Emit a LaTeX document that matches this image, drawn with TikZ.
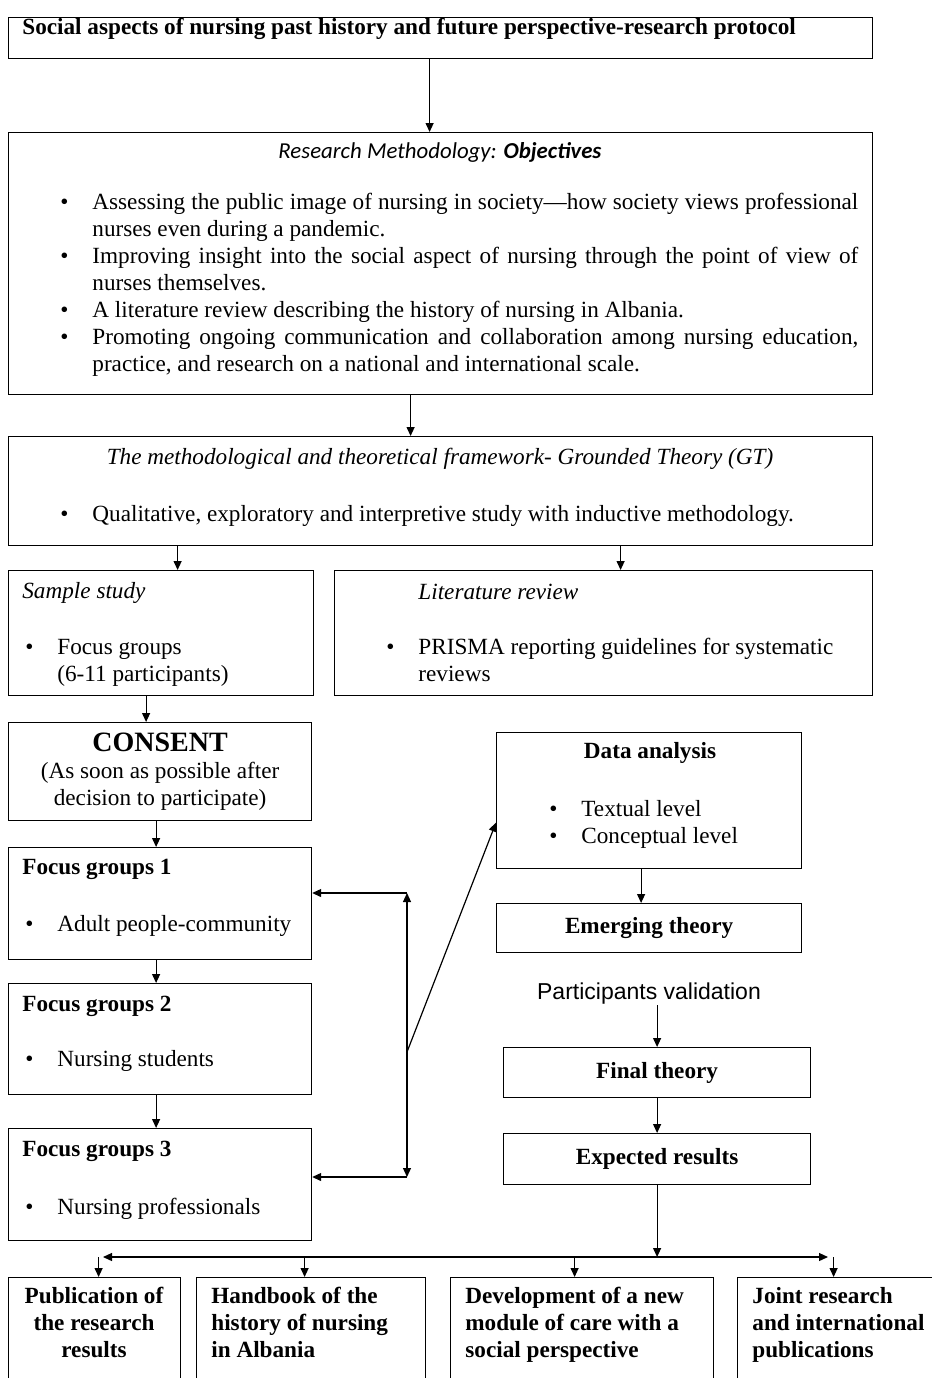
\documentclass[tikz,border=0pt]{standalone}
\usepackage{fontspec}
\setmainfont{Liberation Serif}
\newfontfamily\calibri{Carlito}
\newfontfamily\arial{Liberation Sans}
\usetikzlibrary{arrows.meta, positioning, calc}

\newcommand{\fsz}{\fontsize{11.6}{13.5}\selectfont}
\newenvironment{blist}{\begin{list}{\textbullet}{%
    \setlength{\leftmargin}{17.5pt}\setlength{\labelsep}{12pt}%
    \setlength{\labelwidth}{5.5pt}\setlength{\itemindent}{0pt}%
    \setlength{\itemsep}{0pt}\setlength{\parsep}{0pt}%
    \setlength{\topsep}{0pt}\setlength{\partopsep}{0pt}}}{\end{list}}

\begin{document}
\begin{tikzpicture}[
    x=0.5pt, y=-0.5pt,
    every node/.style={font=\fsz},
    pbox/.style 2 args={draw, line width=0.6pt, minimum width=#1*0.5pt, minimum height=#2*0.5pt, anchor=north west, inner sep=0pt, align=center},
    lbl/.style={anchor=west, inner sep=0pt},
    bftxt/.style={font=\fsz\bfseries},
    ittxt/.style={font=\fsz\itshape},
    items/.style={anchor=north west, inner sep=0pt, text width=#1*0.5pt, align=justify},
    arr/.style={-{Triangle[length=4.5pt, width=4pt]}, line width=0.6pt},
    arrboth/.style={{Triangle[length=4.5pt, width=4pt]}-{Triangle[length=4.5pt, width=4pt]}, line width=0.6pt}
]
    \useasboundingbox (0,0) rectangle (932,1378);
    \clip (0,0) rectangle (932,1378);

    % Title
    \node[pbox={864}{41}] (title) at (8,17) {};
    \node[lbl, bftxt] (titletxt) at (22,29) {Social aspects of nursing past history and future perspective-research protocol};

    % Objectives
    \node[pbox={864}{262}] (obj) at (8,132) {};
    \node[inner sep=0pt, font=\fontsize{11.4}{13.5}\calibri\itshape] (objhead) at (440,152) {Research Methodology: \textbf{Objectives}};
    \node[items=801] (objlist) at (57,182) {\begin{blist}
        \item Assessing the public image of nursing in society—how society views professional\linebreak nurses even during a pandemic.
        \item Improving insight into the social aspect of nursing through the point of view of\linebreak nurses themselves.
        \item A literature review describing the history of nursing in Albania.
        \item Promoting ongoing communication and collaboration among nursing education,\linebreak practice, and research on a national and international scale.
    \end{blist}};

    % Grounded theory
    \node[pbox={864}{109}] (gt) at (8,436) {};
    \node[inner sep=0pt, ittxt] (gthead) at (440,459) {The methodological and theoretical framework- Grounded Theory (GT)};
    \node[items=801] (gtlist) at (57,494) {\begin{blist}
        \item Qualitative, exploratory and interpretive study with inductive methodology.
    \end{blist}};

    % Sample study / literature review
    \node[pbox={305}{125}] (sample) at (8,570) {};
    \node[lbl, ittxt] (samplehead) at (22,593) {Sample study};
    \node[items=280] (samplelist) at (22,627) {\begin{blist}
        \item Focus groups\\(6-11 participants)
    \end{blist}};

    \node[pbox={538}{125}] (lit) at (334,570) {};
    \node[lbl, ittxt] (lithead) at (418,592) {Literature review};
    \node[items=480] (litlist) at (383,627) {\begin{blist}
        \item PRISMA reporting guidelines for systematic\\reviews
    \end{blist}};

    % Consent and focus groups
    \node[pbox={303}{98}] (consent) at (8,722) {{\fontsize{14}{13.5}\selectfont\bfseries CONSENT}\\(As soon as possible after\\decision to participate)};

    \node[pbox={303}{112}] (fg1) at (8,847) {};
    \node[lbl, bftxt] (fg1head) at (22,869) {Focus groups 1};
    \node[items=280] (fg1list) at (22,904) {\begin{blist}\item Adult people-community\end{blist}};

    \node[pbox={303}{111}] (fg2) at (8,983) {};
    \node[lbl, bftxt] (fg2head) at (22,1006) {Focus groups 2};
    \node[items=280] (fg2list) at (22,1039) {\begin{blist}\item Nursing students\end{blist}};

    \node[pbox={303}{112}] (fg3) at (8,1128) {};
    \node[lbl, bftxt] (fg3head) at (22,1151) {Focus groups 3};
    \node[items=280] (fg3list) at (22,1187) {\begin{blist}\item Nursing professionals\end{blist}};

    % Analysis column
    \node[pbox={305}{136}] (data) at (496,732) {};
    \node[inner sep=0pt, bftxt] (datahead) at (650,753) {Data analysis};
    \node[items=250] (datalist) at (546,789) {\begin{blist}
        \item Textual level
        \item Conceptual level
    \end{blist}};

    \node[pbox={305}{49}, bftxt] (emerg) at (496,903) {Emerging theory};
    \node[inner sep=0pt, font=\fontsize{11.5}{13.5}\arial] (valid) at (649,994) {Participants validation};
    \node[pbox={307}{50}, bftxt] (final) at (503,1047) {Final theory};
    \node[pbox={307}{51}, bftxt] (expect) at (503,1133) {Expected results};

    % Outcomes
    \node[pbox={172}{115}] (pub) at (8,1277) {};
    \node[anchor=north, inner sep=0pt, align=center, bftxt] (pubtxt) at (94,1287) {Publication of\\the research\\results};
    \node[pbox={229}{115}] (hand) at (196,1277) {};
    \node[anchor=north west, inner sep=0pt, align=left, bftxt] (handtxt) at (211,1287) {Handbook of the\\history of nursing\\in Albania};
    \node[pbox={263}{115}] (dev) at (450,1277) {};
    \node[anchor=north west, inner sep=0pt, align=left, bftxt] (devtxt) at (465,1287) {Development of a new\\module of care with a\\social perspective};
    \node[pbox={200}{115}] (joint) at (737,1277) {};
    \node[anchor=north west, inner sep=0pt, align=left, bftxt] (jointtxt) at (752,1287) {Joint research\\and international\\publications};

    % Connectors
    \draw[arr] ([xshift=-5.5pt]title.south) -- ([xshift=-5.5pt]obj.north);
    \draw[arr] ([xshift=-15pt]obj.south) -- ([xshift=-15pt]gt.north);
    \draw[arr] ([xshift=8.25pt]sample.north |- gt.south) -- ([xshift=8.25pt]sample.north);
    \draw[arr] ([xshift=8.5pt]lit.north |- gt.south) -- ([xshift=8.5pt]lit.north);
    \draw[arr] ([xshift=-7pt]consent.north |- sample.south) -- ([xshift=-7pt]consent.north);
    \draw[arr] ([xshift=-2pt]consent.south) -- ([xshift=-2pt]fg1.north);
    \draw[arr] ([xshift=-2pt]fg1.south) -- ([xshift=-2pt]fg2.north);
    \draw[arr] ([xshift=-2pt]fg2.south) -- ([xshift=-2pt]fg3.north);

    \coordinate (loopup) at (407,893);
    \coordinate (loopdn) at (407,1177);
    \coordinate (loopmid) at (407,1052);
    \draw[arrboth] (loopup) -- (loopdn);
    \draw[arr] (loopup) -- (fg1.east |- loopup);
    \draw[arr] (loopdn) -- (fg3.east |- loopdn);
    \draw[arr] (loopmid) -- ([yshift=-11pt]data.west);

    \draw[arr] ([xshift=-4pt]data.south) -- ([xshift=-4pt]emerg.north);
    \draw[arr] (final.north |- valid.south) -- (final.north);
    \draw[arr] (final.south) -- (expect.north);

    \coordinate (spine) at (656,1257);
    \coordinate (spinel) at (103,1257);
    \coordinate (spiner) at (828,1257);
    \draw[arr] (expect.south) -- (expect.south |- spine);
    \draw[arrboth] (spinel) -- (spiner);
    \draw[arr] ([xshift=2pt]pub.north |- spine) -- ([xshift=2pt]pub.north);
    \draw[arr] ([xshift=-3.25pt]hand.north |- spine) -- ([xshift=-3.25pt]hand.north);
    \draw[arr] ([xshift=-3.75pt]dev.north |- spine) -- ([xshift=-3.75pt]dev.north);
    \draw[arr] ([xshift=-2pt]joint.north |- spine) -- ([xshift=-2pt]joint.north);

\end{tikzpicture}
\end{document}
